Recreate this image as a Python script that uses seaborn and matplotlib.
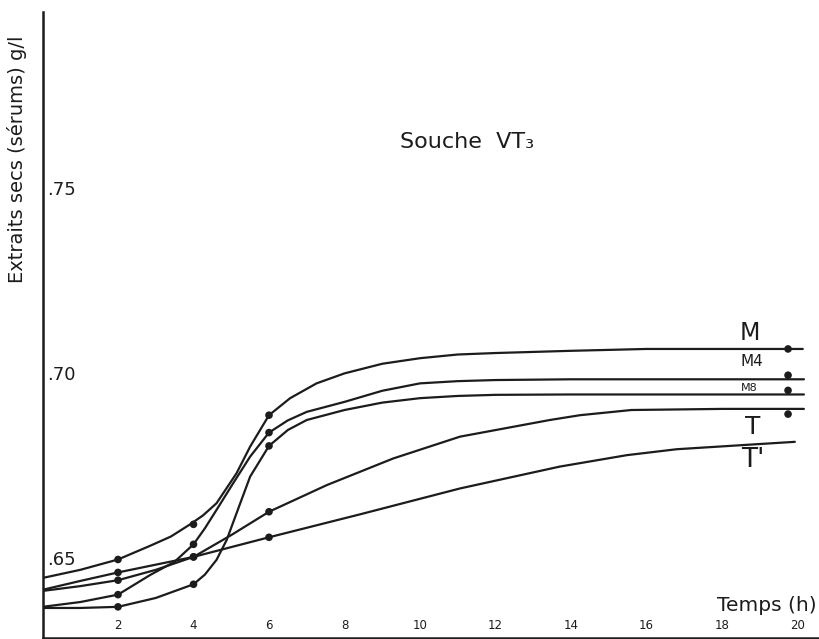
import numpy as np
import pandas as pd
import matplotlib
matplotlib.use("Agg")
import matplotlib.pyplot as plt
import seaborn as sns

# ---- data ----
m_x   = [0, 1, 2, 2.85, 3.4, 3.91, 4.25, 4.61, 5.14, 5.5, 6.0, 6.56, 7.26, 8, 9, 10, 11, 12, 14, 16, 18, 20.14]
m_y   = [0.6446, 0.6468, 0.6496, 0.6533, 0.6558, 0.6591, 0.6615, 0.6648, 0.6729, 0.6801, 0.6886,
         0.6932, 0.6972, 0.6999, 0.7025, 0.7040, 0.7050, 0.7054, 0.7060, 0.7065, 0.7065, 0.7065]

m4_x  = [0, 1, 2, 2.85, 3.5, 4, 4.3, 4.61, 5.05, 5.5, 6, 6.5, 7, 8, 9, 10, 11, 12, 14, 16, 18, 20.17]
m4_y  = [0.6368, 0.6381, 0.6401, 0.6454, 0.6490, 0.6537, 0.6580, 0.6630, 0.6702, 0.6774, 0.6839,
         0.6872, 0.6895, 0.6922, 0.6952, 0.6972, 0.6978, 0.6981, 0.6983, 0.6983, 0.6983, 0.6983]

m8_x  = [0, 1, 2, 3, 4, 4.3, 4.61, 4.88, 5.14, 5.5, 6, 6.5, 7, 8, 9, 10, 11, 12, 14, 16, 18, 20.17]
m8_y  = [0.6365, 0.6365, 0.6368, 0.6392, 0.6429, 0.6455, 0.6495, 0.6549, 0.6621, 0.6720, 0.6803,
         0.6846, 0.6873, 0.6900, 0.6920, 0.6932, 0.6938, 0.6941, 0.6942, 0.6942, 0.6942, 0.6942]

t_x   = [0, 1, 2, 3, 4, 5, 6, 7.53, 9.29, 11.06, 13.44, 14.24, 15.6, 18, 20.17]
t_y   = [0.6411, 0.6424, 0.6440, 0.6468, 0.6503, 0.6562, 0.6625, 0.6697, 0.6769, 0.6828,
         0.6873, 0.6886, 0.6900, 0.6903, 0.6903]

tp_x  = [0, 1, 2, 4, 6, 8.41, 11.06, 13.7, 15.48, 16.8, 19.93]
tp_y  = [0.6414, 0.6438, 0.6461, 0.6503, 0.6556, 0.6618, 0.6688, 0.6747, 0.6778, 0.6794, 0.6814]

# measured points (dots)
dot_series = ["M"] * 4 + ["M4"] * 4 + ["M8"] * 4 + ["T"] * 4 + ["T'"] * 3
dot_x = [2, 4, 6, 19.75] * 4 + [2, 4, 6]
dot_y = [0.6496, 0.6591, 0.6886, 0.7065,
         0.6401, 0.6537, 0.6839, 0.6994,
         0.6368, 0.6429, 0.6803, 0.6953,
         0.6440, 0.6503, 0.6625, 0.6889,
         0.6461, 0.6503, 0.6556]

series_names = ["M", "M4", "M8", "T", "T'"]
label_x = [18.74, 18.79, 18.71, 18.82, 18.82]
label_y = [0.7108, 0.7030, 0.6959, 0.6854, 0.6765]
label_size = [17, 11, 8, 18, 19]

x_ticks = [2, 4, 6, 8, 10, 12, 14, 16, 18, 20]
y_ticks = [0.65, 0.70, 0.75]
y_tick_labels = [".65", ".70", ".75"]

title = "Souche  VT\u2083"
y_label = "Extraits secs (sérums) g/l"
x_label = "Temps (h)"

# ---- build frames ----
curves = pd.concat([
    pd.DataFrame({"x": m_x, "y": m_y, "s": "M"}),
    pd.DataFrame({"x": m4_x, "y": m4_y, "s": "M4"}),
    pd.DataFrame({"x": m8_x, "y": m8_y, "s": "M8"}),
    pd.DataFrame({"x": t_x, "y": t_y, "s": "T"}),
    pd.DataFrame({"x": tp_x, "y": tp_y, "s": "T'"}),
], ignore_index=True)
dots = pd.DataFrame({"x": dot_x, "y": dot_y, "s": dot_series})

sns.set_theme(style="white")
plt.rcParams["font.family"] = ["DejaVu Sans"]

ink = "#1c1c1c"
pal = {s: ink for s in series_names}

fig = plt.figure(figsize=(8.19, 6.39), dpi=100)
ax = fig.add_axes([0.0519, 0.00156, 0.9481, 0.97966])

sns.lineplot(data=curves, x="x", y="y", hue="s", palette=pal, estimator=None,
             sort=False, linewidth=1.6, legend=False, ax=ax,
             solid_joinstyle="round", solid_capstyle="round")
sns.scatterplot(data=dots, x="x", y="y", hue="s", palette=pal, s=30,
                edgecolor=ink, linewidth=0, legend=False, ax=ax, zorder=5)

ax.set_xlim(0, 20.57)
ax.set_ylim(0.62838, 0.79757)

for sp in ["top", "right"]:
    ax.spines[sp].set_visible(False)
for sp in ["left", "bottom"]:
    ax.spines[sp].set_color(ink)
    ax.spines[sp].set_linewidth(1.8)

ax.set_xticks(x_ticks)
ax.set_xticklabels([str(v) for v in x_ticks])
ax.tick_params(axis="x", direction="in", length=6, width=1.2, color=ink,
               labelsize=8.5, labelcolor=ink, pad=-14)

ax.set_yticks(y_ticks)
ax.set_yticklabels(y_tick_labels)
ax.tick_params(axis="y", direction="in", length=3, width=1.2, color=ink,
               labelsize=13, labelcolor=ink, pad=-3)
for lbl in ax.get_yticklabels():
    lbl.set_horizontalalignment("left")

ax.set_xlabel("")
ax.set_ylabel(y_label, fontsize=14, color=ink)
ax.yaxis.set_label_coords(-0.0195, 0.765)

ax.text(0.5467, 0.7624, title, transform=ax.get_yaxis_transform(),
        ha="center", va="center", fontsize=16, color=ink)
ax.text(0.997, 0.052, x_label, transform=ax.transAxes, ha="right", va="center",
        fontsize=14.5, color=ink)

for name, lx, ly, fs in zip(series_names, label_x, label_y, label_size):
    ax.text(lx, ly, name, ha="center", va="center", fontsize=fs, color=ink)

fig.savefig("out.png", dpi=100)
